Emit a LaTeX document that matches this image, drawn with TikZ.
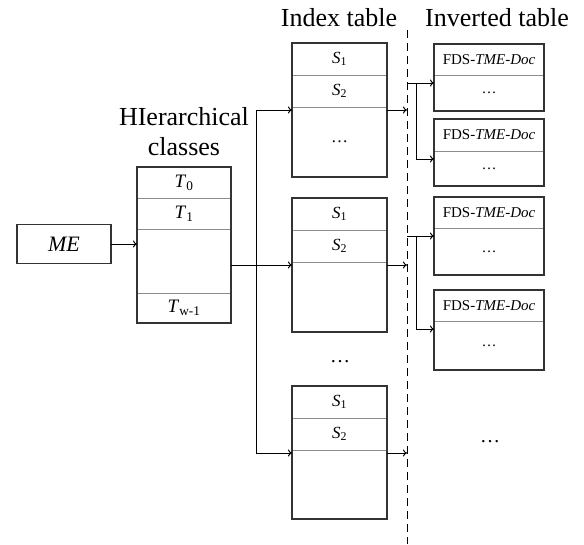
\documentclass[tikz,border=0pt]{standalone}
\usepackage{fontspec}
\setmainfont{Liberation Serif}
\usepackage{tikz}
\usetikzlibrary{arrows}
\usetikzlibrary{arrows.meta}
\usetikzlibrary{positioning}

\begin{document}
\begin{tikzpicture}[x=1pt,y=-1pt,node distance=0pt,every node/.style={inner sep=0pt,outer sep=0pt},
  cell/.style={draw=black!45,line width=0.8pt,minimum width=94pt},
  idx/.style={cell,minimum width=95pt,font=\fontsize{17}{19}\selectfont},
  inv/.style={cell,minimum width=110pt,font=\fontsize{15}{17}\selectfont},
  hier/.style={cell,font=\fontsize{19}{21}\selectfont},
  boxline/.style={draw=black!80,line width=1.6pt},
  head/.style={font=\fontsize{26}{30}\selectfont,align=center},
  link/.style={line width=1pt,-{To[length=4pt,width=7pt]}}]
  \useasboundingbox (0,0) rectangle (584,544);

  \node (ht) at (184,132)[head]{HIerarchical\\classes};
  \node (it) at (339,18)[head]{Index table};
  \node (vt) at (497,18)[head]{Inverted table};

  \node (me) at (64,244)[boxline,minimum width=94pt,minimum height=39pt,font=\fontsize{22}{24}\selectfont\itshape]{ME};

  \node (t0) at (184,167)[hier,anchor=north,minimum height=31pt]{\textit{T}\textsubscript{0}};
  \node[below=of t0](t1)[hier,minimum height=31pt]{\textit{T}\textsubscript{1}};
  \node[below=of t1](t2)[hier,minimum height=64pt]{};
  \node[below=of t2](tw)[hier,minimum height=30pt]{\textit{T}\textsubscript{w-1}};
  \draw[boxline](t0.north west) rectangle (tw.south east);

  \node (a1) at (339.5,43)[idx,anchor=north,minimum height=32pt]{\textit{S}\textsubscript{1}};
  \node[below=of a1](a2)[idx,minimum height=32pt]{\textit{S}\textsubscript{2}};
  \node[below=of a2](a3)[idx,minimum height=70pt]{\dots};
  \draw[boxline](a1.north west) rectangle (a3.south east);

  \node (b1) at (339.5,198)[idx,anchor=north,minimum height=32pt]{\textit{S}\textsubscript{1}};
  \node[below=of b1](b2)[idx,minimum height=32pt]{\textit{S}\textsubscript{2}};
  \node[below=of b2](b3)[idx,minimum height=70pt]{};
  \draw[boxline](b1.north west) rectangle (b3.south east);

  \node (md) at (340,362)[font=\fontsize{20}{22}\selectfont]{\dots};

  \node (c1) at (339.5,386)[idx,anchor=north,minimum height=32pt]{\textit{S}\textsubscript{1}};
  \node[below=of c1](c2)[idx,minimum height=32pt]{\textit{S}\textsubscript{2}};
  \node[below=of c2](c3)[idx,minimum height=69pt]{};
  \draw[boxline](c1.north west) rectangle (c3.south east);

  \node (p1) at (489,44)[inv,anchor=north,minimum height=31pt]{FDS-\textit{TME-Doc}};
  \node[below=of p1](p2)[inv,minimum height=36pt]{\dots};
  \draw[boxline](p1.north west) rectangle (p2.south east);

  \node (q1) at (489,119)[inv,anchor=north,minimum height=32pt]{FDS-\textit{TME-Doc}};
  \node[below=of q1](q2)[inv,minimum height=35pt]{\dots};
  \draw[boxline](q1.north west) rectangle (q2.south east);

  \node (r1) at (489,197)[inv,anchor=north,minimum height=31pt]{FDS-\textit{TME-Doc}};
  \node[below=of r1](r2)[inv,minimum height=47pt]{\dots};
  \draw[boxline](r1.north west) rectangle (r2.south east);

  \node (s1) at (489,290)[inv,anchor=north,minimum height=31pt]{FDS-\textit{TME-Doc}};
  \node[below=of s1](s2)[inv,minimum height=49pt]{\dots};
  \draw[boxline](s1.north west) rectangle (s2.south east);

  \node (bd) at (490,442)[font=\fontsize{20}{22}\selectfont]{\dots};

  \coordinate (dt) at (407,30);
  \coordinate (db) at (407,544);
  \draw[line width=1pt,dash pattern=on 8pt off 5pt](dt)--(db);

  \coordinate (j1) at (256,110);
  \coordinate (j2) at (256,265);
  \coordinate (j3) at (256,453);
  \coordinate (k1) at (416,83);
  \coordinate (k2) at (416,159);
  \coordinate (k3) at (416,236);
  \coordinate (k4) at (416,329);

  \draw[link](me.east)--(me.east -| t2.west);
  \draw[line width=1pt](j2 -| t2.east)--(j2);
  \draw[line width=1pt](j1)--(j3);
  \draw[link](j1)--(j1 -| a3.west);
  \draw[link](j2)--(j2 -| b3.west);
  \draw[link](j3)--(j3 -| c3.west);
  \draw[link](j1 -| a3.east)--(j1 -| dt);
  \draw[link](j2 -| b3.east)--(j2 -| dt);
  \draw[link](j3 -| c3.east)--(j3 -| dt);

  \draw[link](k1 -| dt)--(k1 -| p2.west);
  \draw[link](k1)|-(k2 -| q2.west);
  \draw[link](k3 -| dt)--(k3 -| r2.west);
  \draw[link](k3)|-(k4 -| s2.west);
\end{tikzpicture}
\end{document}
